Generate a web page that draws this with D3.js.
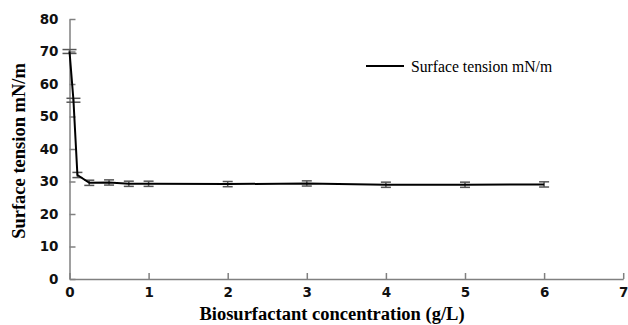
<!DOCTYPE html>
<html lang="en">
<head>
<meta charset="UTF-8">
<title>Surface tension vs biosurfactant concentration</title>
<script src="https://d3js.org/d3.v7.min.js"></script>
<style>
  body { margin: 0; background: #fff; }
  .tick text { font-family: "DejaVu Sans", sans-serif; font-weight: bold; font-size: 13.5px; fill: #111; }
  .axis-title { font-family: "Liberation Serif", serif; font-weight: bold; font-size: 18.5px; fill: #000; }
  .legend text { font-family: "Liberation Serif", serif; font-size: 15.7px; fill: #000; }
</style>
</head>
<body>
<div id="chart"></div>
<script>
const concentration = [0, 0.05, 0.1, 0.25, 0.5, 0.75, 1, 2, 3, 4, 5, 6];
const tension = [70, 55, 32, 29.6, 29.7, 29.3, 29.3, 29.2, 29.4, 29, 29, 29.1];
const errors = [0.6, 0.6, 0.8, 0.8, 0.8, 0.8, 0.8, 0.8, 0.8, 0.8, 0.8, 0.8];
const xTicks = [0, 1, 2, 3, 4, 5, 6, 7];
const yTicks = [0, 10, 20, 30, 40, 50, 60, 70, 80];

const width = 628, height = 325;
const margin = { left: 69.5, top: 19, bottom: 46 };

const svg = d3.select("#chart").append("svg")
    .attr("width", width)
    .attr("height", height);

const x = d3.scaleLinear().domain([0, 7]).range([margin.left, margin.left + 7 * 79.1]);
const y = d3.scaleLinear().domain([0, 80]).range([height - margin.bottom, margin.top]);

// axes, ticks pointing inwards
svg.append("g")
    .attr("transform", `translate(0,${y(0)})`)
    .call(d3.axisBottom(x).tickValues(xTicks).tickFormat(d3.format("d"))
        .tickSize(-6).tickPadding(8).tickSizeOuter(0));
svg.append("g")
    .attr("transform", `translate(${x(0)},0)`)
    .call(d3.axisLeft(y).tickValues(yTicks).tickFormat(d3.format("d"))
        .tickSize(-6).tickPadding(11).tickSizeOuter(0));
svg.selectAll(".domain, .tick line").attr("stroke", "#808080").attr("stroke-width", 1.5);

// error bars
const pts = concentration.map((c, i) => ({ c, t: tension[i], e: errors[i], cap: i < 2 ? 7 : 5 }));
const eb = svg.append("g").attr("stroke", "#555").attr("stroke-width", 1.5);
pts.forEach(d => {
  eb.append("line").attr("x1", x(d.c)).attr("x2", x(d.c)).attr("y1", y(d.t - d.e)).attr("y2", y(d.t + d.e));
  [d.t - d.e, d.t + d.e].forEach(v => {
    eb.append("line").attr("x1", x(d.c) - d.cap).attr("x2", x(d.c) + d.cap).attr("y1", y(v)).attr("y2", y(v));
  });
});

// the series line
const line = d3.line().x(d => x(d.c)).y(d => y(d.t));
svg.append("path")
    .datum(pts)
    .attr("fill", "none")
    .attr("stroke", "#000")
    .attr("stroke-width", 2)
    .attr("d", line);

// axis titles
svg.append("text")
    .attr("class", "axis-title")
    .attr("x", 332).attr("y", 320)
    .attr("text-anchor", "middle")
    .text("Biosurfactant concentration (g/L)");
svg.append("text")
    .attr("class", "axis-title")
    .attr("transform", "translate(25,151) rotate(-90)")
    .attr("text-anchor", "middle")
    .text("Surface tension mN/m");

// legend
const legend = svg.append("g").attr("class", "legend");
legend.append("line").attr("x1", 366).attr("x2", 404).attr("y1", 66).attr("y2", 66)
    .attr("stroke", "#000").attr("stroke-width", 2);
legend.append("text").attr("x", 411).attr("y", 71.5).text("Surface tension mN/m");
</script>
</body>
</html>
